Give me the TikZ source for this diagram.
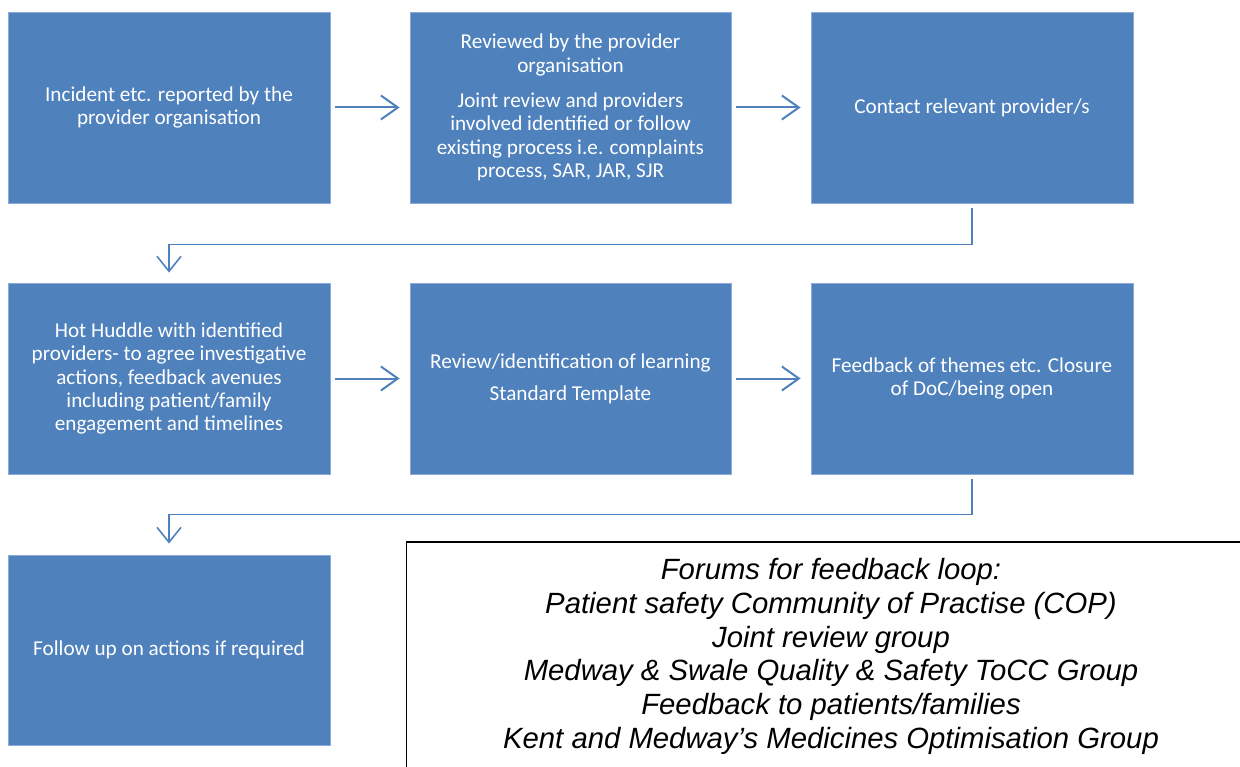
\documentclass[tikz,border=0pt]{standalone}
\usepackage{fontspec}
\setmainfont{Carlito}
\newfontfamily\forumfont{Liberation Sans}
\usetikzlibrary{arrows.meta}
\definecolor{stepblue}{HTML}{4F81BD}
\definecolor{stepedge}{HTML}{8EAADB}
\tikzset{
  stepbox/.style={rectangle, fill=stepblue, draw=stepedge, line width=0.8pt,
    minimum width=322pt, minimum height=191pt, inner sep=0pt,
    text=white, align=center, font=\fontsize{21.2}{23.3}\selectfont},
  flow/.style={draw=stepblue, line width=2pt,
    -{Straight Barb[length=17pt,width=24pt,line width=2pt]}},
  elbow/.style={draw=stepblue, line width=1.6pt,
    -{Straight Barb[length=15pt,width=24pt,line width=1.6pt]}},
  forumbox/.style={rectangle, draw=black, line width=1.4pt, inner sep=0pt,
    minimum width=849pt, minimum height=229.4pt, align=center,
    font=\forumfont\itshape\fontsize{29.3}{33.7}\selectfont},
}
\begin{document}
\begin{tikzpicture}[x=1pt,y=-1pt]
\useasboundingbox (0,0) rectangle (1240,767);

% first row
\node[stepbox] (a) at (169,107.5)
  {Incident etc. reported by the\\provider organisation};
\node[stepbox, minimum width=321pt] (b) at (570.5,107.5)
  {Reviewed by the provider\\organisation\\[12pt]Joint review and providers\\involved identified or follow\\existing process i.e. complaints\\process, SAR, JAR, SJR};
\node[stepbox] (c) at (972,107.5) {Contact relevant provider/s};

% second row
\node[stepbox] (d) at (169,378.5)
  {Hot Huddle with identified\\providers- to agree investigative\\actions, feedback avenues\\including patient/family\\engagement and timelines};
\node[stepbox, minimum width=321pt] (e) at (570.5,378.5)
  {Review/identification of learning\\[9pt]Standard Template};
\node[stepbox] (f) at (972,378.5)
  {Feedback of themes etc. Closure\\of DoC/being open};

% third row
\node[stepbox, minimum height=190pt] (g) at (169,650)
  {Follow up on actions if required};

% forums box
\node[forumbox] (forums) at (831,656.5)
  {Forums for feedback loop:\\Patient safety Community of Practise (COP)\\Joint review group\\Medway \& Swale Quality \& Safety ToCC Group\\Feedback to patients/families\\Kent and Medway’s Medicines Optimisation Group};

% arrows within rows
\draw[flow] ([xshift=5pt]a.east) -- ([xshift=-10pt]b.west);
\draw[flow] ([xshift=5pt]b.east) -- ([xshift=-10pt]c.west);
\draw[flow] ([xshift=5pt]d.east) -- ([xshift=-10pt]e.west);
\draw[flow] ([xshift=5pt]e.east) -- ([xshift=-10pt]f.west);

% elbow connectors between rows
\draw[elbow] ([yshift=-5pt]c.south) -- ++(0,36) -| ([yshift=10pt]d.north);
\draw[elbow] ([yshift=-5pt]f.south) -- ++(0,35) -| ([yshift=11pt]g.north);
\end{tikzpicture}
\end{document}
